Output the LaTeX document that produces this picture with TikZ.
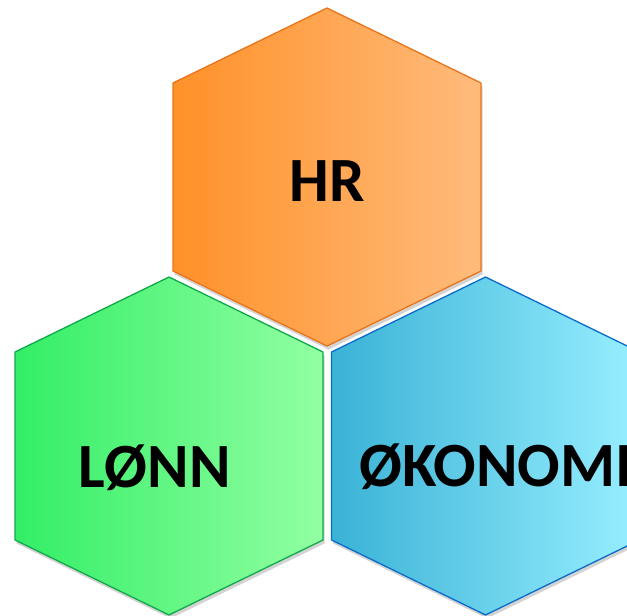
\documentclass[tikz,border=0pt]{standalone}
\usepackage{fontspec}
\setmainfont{Carlito}
\usetikzlibrary{shadows}
\definecolor{hrL}{HTML}{FF9129}
\definecolor{hrR}{HTML}{FFBB7C}
\definecolor{hrE}{HTML}{E8741C}
\definecolor{lonnL}{HTML}{33EE66}
\definecolor{lonnR}{HTML}{92FFA2}
\definecolor{lonnE}{HTML}{10A84A}
\definecolor{okoL}{HTML}{3AB2D6}
\definecolor{okoR}{HTML}{97EFFF}
\definecolor{okoE}{HTML}{0A6CC8}
\newcommand{\hexcell}[2]{(#1,#2) -- ++(154,75) -- ++(0,188) -- ++(-154,75) -- ++(-154,-75) -- ++(0,-188) -- cycle}
\begin{document}
\begin{tikzpicture}[x=1pt,y=-1pt,line join=round,
  cell/.style={draw=#1E,line width=1.3pt,left color=#1L,right color=#1R,
    drop shadow={opacity=.35,shadow xshift=1.5pt,shadow yshift=-3.5pt}},
  word/.style={inner sep=0pt,font=\fontsize{63}{72}\selectfont\bfseries}]
  \useasboundingbox (0,0) rectangle (627,616);
  \clip (0,0) rectangle (627,616);
  \path[cell=lonn] \hexcell{169}{277};
  \path[cell=oko] \hexcell{485.5}{277};
  \path[cell=hr] \hexcell{327}{8};
  \node[word,anchor=base] (hr) at (327.5,201) {HR};
  \node[word,anchor=base west] (lonn) at (78,487) {LØNN};
  \node[word,anchor=base west] (okonomi) at (359,486) {ØKONOMI};
\end{tikzpicture}
\end{document}
